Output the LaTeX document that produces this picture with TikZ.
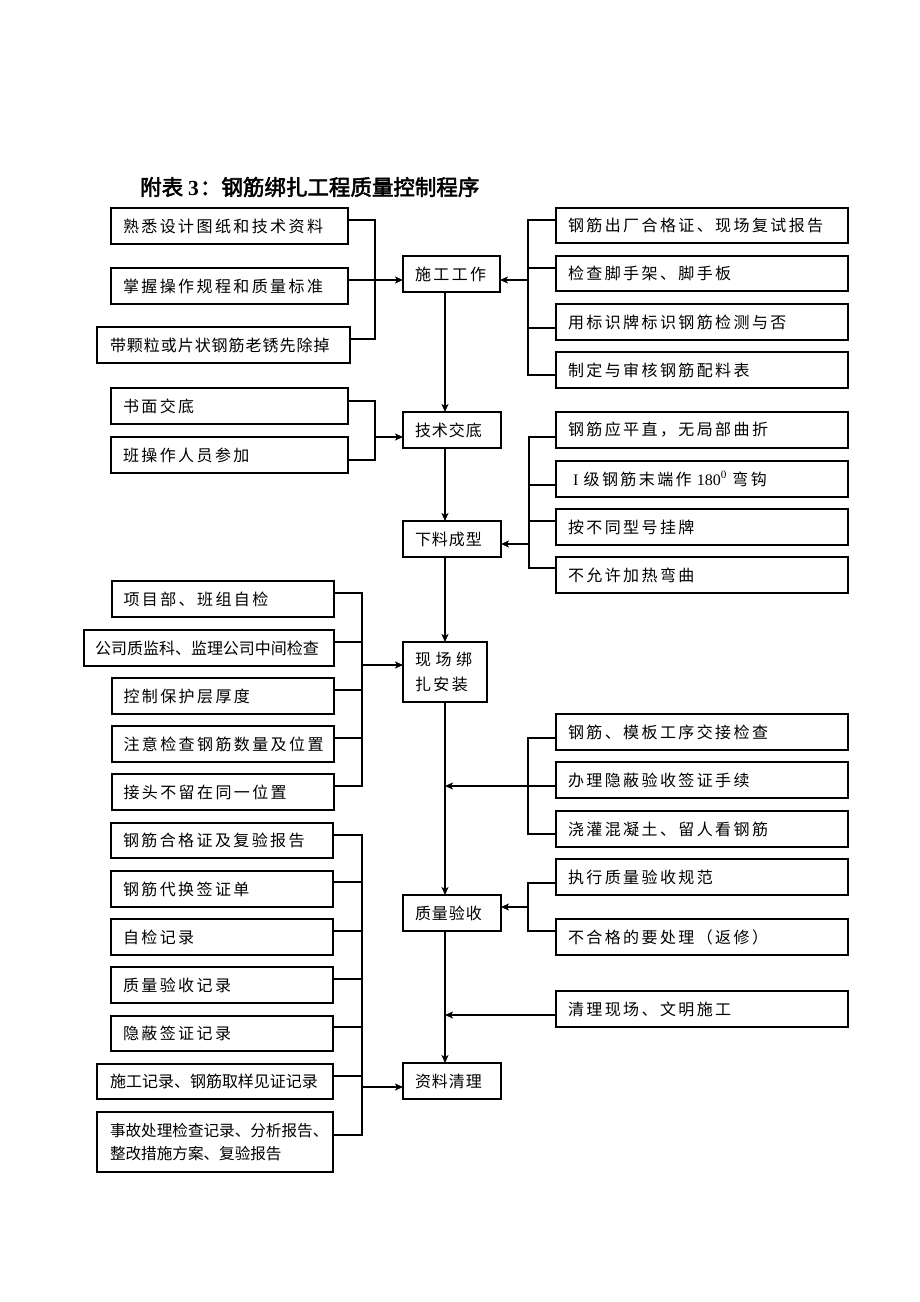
\documentclass[tikz,border=0pt]{standalone}
\usepackage{fontspec}
\setmainfont{Liberation Serif}
\newfontfamily\cjk{Noto Sans CJK SC}
\newfontfamily\cjks[LetterSpace=15]{Noto Sans CJK SC}
\newfontfamily\cjkm[LetterSpace=6]{Noto Sans CJK SC}
\newfontfamily\cjkt[FakeBold=2.5]{Noto Sans CJK SC}
\usetikzlibrary{arrows.meta}
\tikzset{
  bx/.style={draw, line width=1.2pt, anchor=north west, inner xsep=12pt, inner ysep=0pt, outer sep=0pt, align=left, font=\cjks\fontsize{16}{24}\selectfont, minimum height=36pt},
  mid/.style={font=\cjkm\fontsize{16}{24}\selectfont},
  tight/.style={font=\cjk\fontsize{16}{24}\selectfont},
  ln/.style={line width=1.2pt},
  ar/.style={line width=1.2pt, -{Stealth[length=8pt,width=7pt,inset=2pt]}},
}
\begin{document}
\begin{tikzpicture}[x=1pt,y=-1pt]
\fill[white] (0,0) rectangle (920,1302);
\useasboundingbox (0,0) rectangle (920,1302);

% title
\node[anchor=west, inner sep=0pt, font=\cjkt\fontsize{21.5}{26}\selectfont] (title) at (140,187) {附表\hspace{5pt}{\rmfamily\bfseries 3}\hspace{1pt}：钢筋绑扎工程质量控制程序};

% main column
\node[bx, text width=73pt] (s1) at (403,256) {施工工作};
\node[bx, mid, text width=74pt] (s2) at (403,412) {技术交底};
\node[bx, mid, text width=74pt] (s3) at (403,521) {下料成型};
\node[bx, text width=60pt, minimum height=60pt, font=\cjks\fontsize{16}{25}\selectfont] (s4) at (403,642) {现\hspace{4.6pt}场\hspace{4.6pt}绑\\扎安装};
\node[bx, mid, text width=74pt] (s5) at (403,895) {质量验收};
\node[bx, mid, text width=74pt] (s6) at (403,1063) {资料清理};
\coordinate (t) at (445,0);

% group A
\node[bx, text width=213pt] (a1) at (111,208) {熟悉设计图纸和技术资料};
\node[bx, text width=213pt] (a2) at (111,268) {掌握操作规程和质量标准};
\node[bx, mid, text width=227pt, inner xsep=13pt] (a3) at (97,327) {带颗粒或片状钢筋老锈先除掉};
% group R
\node[bx, text width=268pt, minimum height=35pt] (r1) at (556,208) {钢筋出厂合格证、现场复试报告};
\node[bx, text width=268pt, minimum height=35pt] (r2) at (556,256) {检查脚手架、脚手板};
\node[bx, text width=268pt] (r3) at (556,304) {用标识牌标识钢筋检测与否};
\node[bx, text width=268pt] (r4) at (556,352) {制定与审核钢筋配料表};
% group B
\node[bx, text width=213pt] (b1) at (111,388) {书面交底};
\node[bx, text width=213pt] (b2) at (111,437) {班操作人员参加};
% group C
\node[bx, text width=268pt] (c1) at (556,412) {钢筋应平直，无局部曲折};
\node[bx, text width=268pt] (c2) at (556,461) {\hspace*{5pt}{\rmfamily I} 级钢筋末端作{\rmfamily\ 180\textsuperscript{0}\ }弯钩};
\node[bx, text width=268pt] (c3) at (556,509) {按不同型号挂牌};
\node[bx, text width=268pt] (c4) at (556,557) {不允许加热弯曲};
\draw[line width=2.5pt] (566,412) -- (593,412);
% group D
\node[bx, text width=199pt, inner xsep=11.5pt] (d1) at (112,581) {项目部、班组自检};
\node[bx, tight, text width=228pt, inner xsep=11pt] (d2) at (84,630) {公司质监科、监理公司中间检查};
\node[bx, text width=199pt, inner xsep=11.5pt] (d3) at (112,678) {控制保护层厚度};
\node[bx, text width=199pt, inner xsep=11.5pt] (d4) at (112,726) {注意检查钢筋数量及位置};
\node[bx, text width=199pt, inner xsep=11.5pt] (d5) at (112,774) {接头不留在同一位置};
% group E/F
\node[bx, text width=268pt] (e1) at (556,714) {钢筋、模板工序交接检查};
\node[bx, text width=268pt] (e2) at (556,762) {办理隐蔽验收签证手续};
\node[bx, text width=268pt] (e3) at (556,811) {浇灌混凝土、留人看钢筋};
\node[bx, text width=268pt] (e4) at (556,859) {执行质量验收规范};
\node[bx, text width=268pt] (e5) at (556,919) {不合格的要处理（返修）};
\node[bx, text width=268pt] (e6) at (556,991) {清理现场、文明施工};
% group G
\node[bx, text width=198pt, minimum height=35pt] (f1) at (111,823) {钢筋合格证及复验报告};
\node[bx, text width=198pt] (f2) at (111,871) {钢筋代换签证单};
\node[bx, text width=198pt] (f3) at (111,919) {自检记录};
\node[bx, text width=198pt] (f4) at (111,967) {质量验收记录};
\node[bx, text width=198pt, minimum height=35pt] (f5) at (111,1016) {隐蔽签证记录};
\node[bx, tight, text width=210pt, inner xsep=13pt, minimum height=35pt] (f6) at (97,1064) {施工记录、钢筋取样见证记录};
\node[bx, text width=210pt, inner xsep=13pt, minimum height=60pt, font=\cjk\fontsize{15.6}{23}\selectfont] (f7) at (97,1112) {事故处理检查记录、分析报告、\\整改措施方案、复验报告};

% trunk
\draw[ar] (s1.south -| t) -- (s2.north -| t);
\draw[ar] (s2.south -| t) -- (s3.north -| t);
\draw[ar] (s3.south -| t) -- (s4.north -| t);
\draw[ar] (s4.south -| t) -- (s5.north -| t);
\draw[ar] (s5.south -| t) -- (s6.north -| t);

% bracket A
\coordinate (ka1) at (375,220); \coordinate (ka2) at (375,280); \coordinate (ka3) at (375,339);
\draw[ln] (a1.east |- ka1) -- (ka1) -- (ka3) -- (a3.east |- ka3);
\draw[ln] (a2.east |- ka2) -- (ka2);
\draw[ar] (ka2) -- (s1.west |- ka2);
% bracket R
\coordinate (kr1) at (528,220); \coordinate (kr2) at (528,268); \coordinate (kr3) at (528,328); \coordinate (kr4) at (528,375); \coordinate (krm) at (528,280);
\draw[ln] (r1.west |- kr1) -- (kr1) -- (kr4) -- (r4.west |- kr4);
\draw[ln] (r2.west |- kr2) -- (kr2);
\draw[ln] (r3.west |- kr3) -- (kr3);
\draw[ar] (krm) -- (s1.east |- krm);
% bracket B
\coordinate (kb1) at (375,401); \coordinate (kb2) at (375,460); \coordinate (kbm) at (375,437);
\draw[ln] (b1.east |- kb1) -- (kb1) -- (kb2) -- (b2.east |- kb2);
\draw[ar] (kbm) -- (s2.west |- kbm);
% bracket C
\coordinate (kc1) at (529,437); \coordinate (kc2) at (529,485); \coordinate (kc3) at (529,521); \coordinate (kc4) at (529,568); \coordinate (kcm) at (529,544);
\draw[ln] (c1.west |- kc1) -- (kc1) -- (kc4) -- (c4.west |- kc4);
\draw[ln] (c2.west |- kc2) -- (kc2);
\draw[ln] (c3.west |- kc3) -- (kc3);
\draw[ar] (kcm) -- (s3.east |- kcm);
% bracket D
\coordinate (kd1) at (362,593); \coordinate (kd2) at (362,642); \coordinate (kd3) at (362,690); \coordinate (kd4) at (362,738); \coordinate (kd5) at (362,786); \coordinate (kdm) at (362,665);
\draw[ln] (d1.east |- kd1) -- (kd1) -- (kd5) -- (d5.east |- kd5);
\draw[ln] (d2.east |- kd2) -- (kd2);
\draw[ln] (d3.east |- kd3) -- (kd3);
\draw[ln] (d4.east |- kd4) -- (kd4);
\draw[ar] (kdm) -- (s4.west |- kdm);
% bracket E
\coordinate (ke1) at (528,738); \coordinate (ke2) at (528,786); \coordinate (ke3) at (528,834);
\draw[ln] (e1.west |- ke1) -- (ke1) -- (ke3) -- (e3.west |- ke3);
\draw[ln] (e2.west |- ke2) -- (ke2);
\draw[ar] (ke2) -- (t |- ke2);
% bracket F
\coordinate (kf1) at (528,883); \coordinate (kf2) at (528,931); \coordinate (kfm) at (528,907);
\draw[ln] (e4.west |- kf1) -- (kf1) -- (kf2) -- (e5.west |- kf2);
\draw[ar] (kfm) -- (s5.east |- kfm);
% clean-up arrow
\coordinate (kx) at (556,1015);
\draw[ar] (e6.west |- kx) -- (t |- kx);
% bracket G
\coordinate (kg1) at (362,835); \coordinate (kg2) at (362,882); \coordinate (kg3) at (362,931); \coordinate (kg4) at (362,979); \coordinate (kg5) at (362,1027); \coordinate (kg6) at (362,1076); \coordinate (kg7) at (362,1135); \coordinate (kgm) at (362,1087);
\draw[ln] (f1.east |- kg1) -- (kg1) -- (kg7) -- (f7.east |- kg7);
\draw[ln] (f2.east |- kg2) -- (kg2);
\draw[ln] (f3.east |- kg3) -- (kg3);
\draw[ln] (f4.east |- kg4) -- (kg4);
\draw[ln] (f5.east |- kg5) -- (kg5);
\draw[ln] (f6.east |- kg6) -- (kg6);
\draw[ar] (kgm) -- (s6.west |- kgm);
\end{tikzpicture}
\end{document}
